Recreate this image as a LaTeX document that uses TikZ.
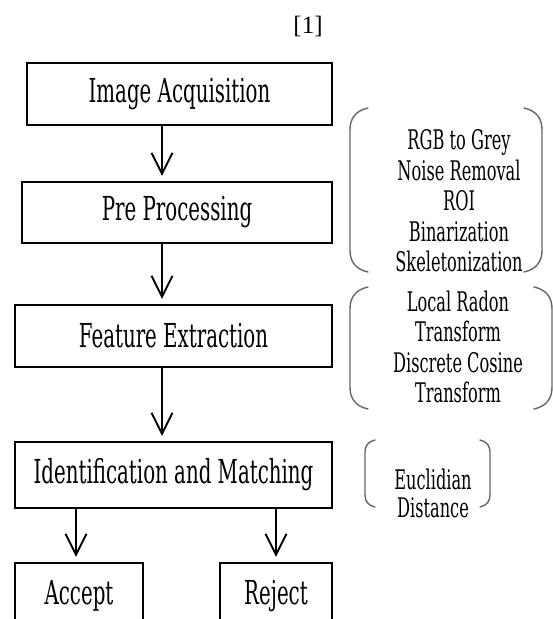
\documentclass[tikz,border=0pt]{standalone}
\usepackage{fontspec}
\setmainfont{DejaVu Serif}[FakeStretch=0.6]
\newfontfamily\refnumfont{Liberation Serif}
\usetikzlibrary{arrows.meta}

% a pair of tall round brackets: left x, right x, top y, bottom y, hook size
\newcommand{\noteparens}[5]{%
  \draw[parenline] (#1+#5,#3) .. controls (#1+0.3*#5,#3+0.15*#5) and (#1,#3+0.6*#5) .. (#1,#3+1.2*#5)
    -- (#1,#4-1.2*#5) .. controls (#1,#4-0.6*#5) and (#1+0.3*#5,#4-0.15*#5) .. (#1+#5,#4);
  \draw[parenline] (#2-#5,#3) .. controls (#2-0.3*#5,#3+0.15*#5) and (#2,#3+0.6*#5) .. (#2,#3+1.2*#5)
    -- (#2,#4-1.2*#5) .. controls (#2,#4-0.6*#5) and (#2-0.3*#5,#4-0.15*#5) .. (#2-#5,#4);
}

\tikzset{
  stagebox/.style={draw=black, line width=2.2pt, inner sep=0pt, minimum height=62pt,
    font=\fontsize{33}{35}\selectfont},
  flowarrow/.style={line width=1.9pt, shorten >=5pt,
    -{Straight Barb[length=21pt, width=21pt, line width=1.9pt]}},
  parenline/.style={draw=black!60, line width=1.4pt, line cap=round},
  notetext/.style={align=center, inner sep=0pt, font=\fontsize{27}{30.5}\selectfont},
}

\begin{document}
\begin{tikzpicture}[x=1pt, y=-1pt]
% page in pixel units, origin at the top left corner
\useasboundingbox (0,0) rectangle (553,619);
\clip (0,0) rectangle (553,619);

\node[font=\refnumfont\fontsize{25}{25}\selectfont] (refnum) at (308,26) {[1]};

% Processing stages
\node[stagebox, minimum width=305pt] (acq) at (179.5,94) {Image Acquisition};
\node[stagebox, minimum width=310pt, minimum height=61pt] (pre) at (177,212.5) {Pre Processing};
\node[stagebox, minimum width=317pt] (feat) at (173.5,336) {Feature Extraction};
\node[stagebox, minimum width=317pt, minimum height=66pt] (ident) at (173.5,475) {Identification and Matching};
\node[stagebox, minimum width=128pt, minimum height=66pt] (acc) at (79,596) {Accept};
\node[stagebox, minimum width=112pt, minimum height=66pt] (rej) at (276,596) {Reject};

% Flow between stages
\draw[flowarrow] ([xshift=-17.5pt]acq.south) -- ([xshift=-17.5pt]acq.south |- pre.north);
\draw[flowarrow] ([xshift=-15pt]pre.south) -- ([xshift=-15pt]pre.south |- feat.north);
\draw[flowarrow] ([xshift=-11.5pt]feat.south) -- ([xshift=-11.5pt]feat.south |- ident.north);
\draw[flowarrow] ([xshift=-97.5pt]ident.south) -- ([xshift=-97.5pt]ident.south |- acc.north);
\draw[flowarrow] ([xshift=102.5pt]ident.south) -- ([xshift=102.5pt]ident.south |- rej.north);

% Notes beside the stages
\node[notetext] (prenote) at (459,201) {RGB to Grey\\Noise Removal\\ROI\\Binarization\\Skeletonization};
\noteparens{350}{542}{108}{272}{18}
\node[notetext] (featnote) at (458,347) {Local Radon\\Transform\\Discrete Cosine\\Transform};
\noteparens{350}{552}{287}{409}{18}
\node[notetext, font=\fontsize{27}{28}\selectfont] (identnote) at (433,493) {Euclidian\\Distance};
\noteparens{365}{490}{440}{507}{10}
\end{tikzpicture}
\end{document}
